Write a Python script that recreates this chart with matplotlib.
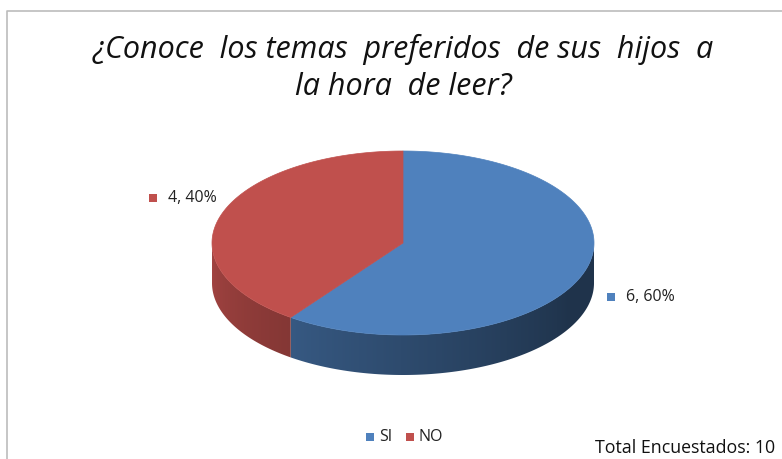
import numpy as np
import matplotlib.pyplot as plt
from matplotlib.colors import to_rgb
from matplotlib.patches import Polygon, Rectangle

# Data
labels = ["SI", "NO"]
values = [6, 4]
total_label = "Total Encuestados: 10"
title = "¿Conoce  los temas  preferidos  de sus  hijos  a\nla hora  de leer?"

colors = ["#4f81bd", "#c0504d"]

W, H = 782, 459
fig = plt.figure(figsize=(W / 100, H / 100), dpi=100)
ax = fig.add_axes([0, 0, 1, 1])
ax.set_xlim(0, W)
ax.set_ylim(0, H)
ax.axis("off")

# chart frame
ax.plot([7, 7, W + 5], [-5, H - 11, H - 11], color="#bcbcbc", lw=1.2)

# pie geometry (pixels)
cx, cy = 403, H - 243
a, b, depth = 191, 92, 40

def pt(t):
    r = np.deg2rad(t)
    return cx + a * np.cos(r), cy + b * np.sin(r)

def shade(t):
    return np.clip(0.85 - 0.45 * (t - 180) / 150, 0.40, 0.85)

# slice angles: first slice clockwise from the top
fracs = np.array(values) / sum(values)
angles = []
start = 90.0
for f in fracs:
    end = start - f * 360
    angles.append((end, start))
    start = end

# side faces (visible lower half only), shaded with a gradient
xs_img = np.linspace(cx - a, cx + a, 400)
t_img = 360 - np.rad2deg(np.arccos(np.clip((xs_img - cx) / a, -1, 1)))
for (t0, t1), col in zip(angles, colors):
    lo = t0 % 360
    hi = lo + (t1 - t0)
    segs = [(max(lo, 180), min(hi, 360)), (max(lo - 360, 180), min(hi - 360, 360))]
    for s0, s1 in segs:
        if s1 <= s0:
            continue
        ts = np.linspace(s0, s1, 300)
        ux, uy = pt(ts)
        verts = list(zip(ux, uy)) + list(zip(ux[::-1], uy[::-1] - depth))
        clip = Polygon(verts, closed=True, fc="none", ec="none")
        ax.add_patch(clip)
        rgb = np.array(to_rgb(col))
        img = (shade(t_img)[:, None] * rgb[None, :])[None, :, :]
        im = ax.imshow(img, extent=(cx - a, cx + a, cy - b - depth, cy + 1),
                       aspect="auto", interpolation="bilinear", zorder=1)
        im.set_clip_path(clip)

# top faces
for (t0, t1), col in zip(angles, colors):
    ts = np.linspace(t0, t1, 300)
    xs, ys = pt(ts)
    verts = [(cx, cy)] + list(zip(xs, ys))
    ax.add_patch(Polygon(verts, closed=True, fc=col, ec=col, lw=0.5, zorder=2))

ax.set_xlim(0, W)
ax.set_ylim(0, H)

# data labels
lab_pos = [(611, H - 297), (153, H - 198)]
for (lx, ly), v, f, col in zip(lab_pos, values, fracs, colors):
    ax.add_patch(Rectangle((lx - 4, ly - 4), 8, 8, fc=col, ec="none"))
    ax.text(lx + 15, ly, f"{v}, {f * 100:.0f}%", fontsize=11.5, family="Open Sans",
            va="center", ha="left", color="#222222")

# title
ax.text(403, H - 68, title, fontsize=22, style="italic", family="Open Sans",
        ha="center", va="center", linespacing=1.3, color="#111111")

# legend
lx = 370
for lab, col in zip(labels, colors):
    ax.add_patch(Rectangle((lx - 4, H - 441), 8, 8, fc=col, ec="none"))
    ax.text(lx + 9, H - 437, lab, fontsize=11.5, family="Open Sans",
            va="center", ha="left", color="#222222")
    lx += 40

ax.text(775, H - 448, total_label, fontsize=12.8, family="Open Sans",
        va="center", ha="right", color="#111111")

fig.savefig("out.png", dpi=100)
